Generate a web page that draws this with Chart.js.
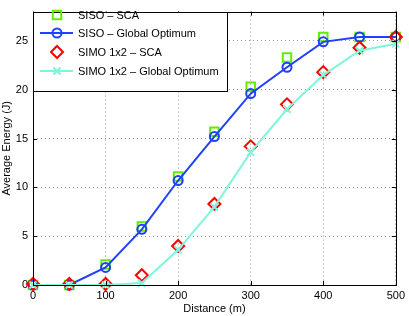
<!DOCTYPE html>
<html>
<head>
<meta charset="utf-8">
<script src="https://cdn.jsdelivr.net/npm/chart.js@4/dist/chart.umd.min.js"></script>
<style>
  html, body { margin: 0; padding: 0; background: #fff; }
  #wrap { width: 409px; height: 316px; }
</style>
</head>
<body>
<div id="wrap"><canvas id="energyChart" width="409" height="316"></canvas></div>
<script>
// values
let distances = [0, 50, 100, 150, 200, 250, 300, 350, 400, 450, 500];
let sisoSca  = [0, 0, 2.1, 6.0, 11.1, 15.7, 20.3, 23.3, 25.4, 25.4, 25.4];
let sisoOpt  = [0, 0, 1.8, 5.7, 10.7, 15.2, 19.6, 22.3, 24.9, 25.4, 25.4];
let simoSca  = [0.1, 0.1, 0.1, 1.0, 4.0, 8.3, 14.2, 18.5, 21.8, 24.3, 25.4];
let simoOpt  = [0, 0, 0, 0.2, 3.6, 8.0, 13.6, 18.0, 21.5, 24.0, 24.7];
let xTicks = [0, 100, 200, 300, 400, 500];
let yTicks = [0, 5, 10, 15, 20, 25];

let FONT = 'Liberation Sans, Arial, Helvetica, sans-serif';

function pts(ys) {
    return distances.map((d, i) => ({ x: d, y: ys[i] }));
}

// matlab style: box, inner ticks, legend inside upper-left
let matlabBox = {
    id: 'matlabBox',
    afterDraw(chart) {
        let c = chart.ctx, a = chart.chartArea;
        let xs = chart.scales.x, ys = chart.scales.y;
        c.save();
        c.strokeStyle = '#000';
        c.lineWidth = 1;
        c.setLineDash([]);
        c.beginPath();
        xTicks.forEach(t => {
            let px = Math.round(xs.getPixelForValue(t)) + 0.5;
            c.moveTo(px, a.bottom); c.lineTo(px, a.bottom - 4);
            c.moveTo(px, a.top); c.lineTo(px, a.top + 4);
        });
        yTicks.forEach(t => {
            let py = Math.round(ys.getPixelForValue(t)) + 0.5;
            c.moveTo(a.left, py); c.lineTo(a.left + 4, py);
            c.moveTo(a.right, py); c.lineTo(a.right - 4, py);
        });
        c.stroke();
        c.strokeRect(Math.round(a.left) + 0.5, Math.round(a.top) + 0.5,
                     Math.round(a.right - a.left), Math.round(a.bottom - a.top));

        // legend
        let lx = Math.round(a.left) + 0.5, ly = Math.round(a.top) + 0.5;
        let lw = 194, lh = 79;
        c.fillStyle = '#fff';
        c.fillRect(lx, ly, lw, lh);
        c.strokeRect(lx, ly, lw, lh);
        c.font = '11px ' + FONT;
        c.textBaseline = 'middle';
        let rowY = [15, 33, 52, 71];
        chart.data.datasets.forEach((ds, i) => {
            let y = rowY[i];
            if (ds.showLine !== false) {
                c.strokeStyle = ds.borderColor;
                c.lineWidth = ds.borderWidth;
                c.beginPath();
                c.moveTo(40, y); c.lineTo(73, y);
                c.stroke();
            }
            c.strokeStyle = ds.pointBorderColor;
            c.fillStyle = 'rgba(0,0,0,0)';
            c.lineWidth = ds.pointBorderWidth;
            Chart.helpers.drawPoint(c, {
                pointStyle: ds.pointStyle,
                radius: ds.pointRadius,
                borderWidth: ds.pointBorderWidth,
                rotation: 0
            }, 57, y);
            c.fillStyle = '#000';
            c.fillText(ds.label, 78, y + 0.5);
        });
        c.restore();
    }
};

let ctx = document.getElementById('energyChart').getContext('2d');

let energyChart = new Chart(ctx, {
    type: 'line',
    data: {
        datasets: [{
            label: 'SISO \u2013 SCA',
            data: pts(sisoSca),
            order: 4,
            showLine: false,
            borderColor: '#5fee00',
            borderWidth: 0,
            pointStyle: 'rect',
            pointRadius: 6,
            pointBorderWidth: 2,
            pointBorderColor: '#5fee00',
            pointBackgroundColor: 'rgba(0,0,0,0)'
        }, {
            label: 'SISO \u2013 Global Optimum',
            data: pts(sisoOpt),
            order: 3,
            borderColor: '#2040ff',
            borderWidth: 2,
            pointStyle: 'circle',
            pointRadius: 4.5,
            pointBorderWidth: 2,
            pointBorderColor: '#2040ff',
            pointBackgroundColor: 'rgba(0,0,0,0)'
        }, {
            label: 'SIMO 1x2 \u2013 SCA',
            data: pts(simoSca),
            order: 2,
            showLine: false,
            borderColor: '#ff0000',
            borderWidth: 0,
            pointStyle: 'rectRot',
            pointRadius: 6,
            pointBorderWidth: 2,
            pointBorderColor: '#ff0000',
            pointBackgroundColor: 'rgba(0,0,0,0)'
        }, {
            label: 'SIMO 1x2 \u2013 Global Optimum',
            data: pts(simoOpt),
            order: 1,
            borderColor: '#7ff5dc',
            borderWidth: 2,
            pointStyle: 'crossRot',
            pointRadius: 5,
            pointBorderWidth: 2,
            pointBorderColor: '#7ff5dc',
            pointBackgroundColor: 'rgba(0,0,0,0)'
        }]
    },
    options: {
        responsive: false,
        animation: false,
        clip: false,
        layout: { padding: { top: 3, right: 10, left: 0, bottom: 0 } },
        plugins: {
            legend: { display: false },
            tooltip: { enabled: false }
        },
        scales: {
            x: {
                type: 'linear',
                min: 0, max: 500,
                afterBuildTicks(s) { s.ticks = xTicks.map(v => ({ value: v })); },
                afterFit(s) { s.height = 31; },
                border: { display: false, dash: [1, 3] },
                grid: { color: '#999', drawTicks: false },
                ticks: { color: '#000', padding: 4, font: { family: FONT, size: 11 }, maxRotation: 0 },
                title: { display: true, text: 'Distance (m)', color: '#000', padding: 0,
                         font: { family: FONT, size: 11 } }
            },
            y: {
                min: 0, max: 28,
                afterBuildTicks(s) { s.ticks = yTicks.map(v => ({ value: v })); },
                afterFit(s) { s.width = 33; },
                border: { display: false, dash: [1, 3] },
                grid: { color: '#999', drawTicks: false },
                ticks: { color: '#000', padding: 5, font: { family: FONT, size: 11 } },
                title: { display: true, text: 'Average Energy (J)', color: '#000', padding: { top: 0, bottom: 2 },
                         font: { family: FONT, size: 11 } }
            }
        }
    },
    plugins: [matlabBox]
});
</script>
</body>
</html>
